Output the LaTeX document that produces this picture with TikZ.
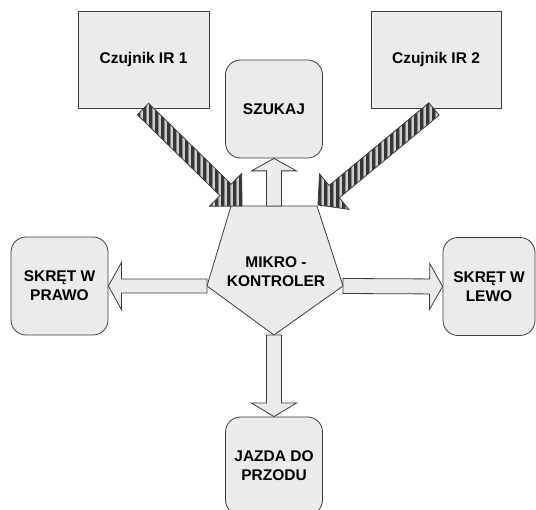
\documentclass[tikz,border=0pt]{standalone}
\usepackage{fontspec}
\setmainfont{Liberation Sans}
\usetikzlibrary{calc}
\definecolor{boxfill}{HTML}{EBEBEB}
\definecolor{edge}{HTML}{3C3C3C}
\definecolor{stripeL}{HTML}{CDCDCD}
\definecolor{stripeM}{HTML}{8A8A8A}
\definecolor{stripeD}{HTML}{363636}
% #1 style, #2 start, #3 tip, #4 shaft half width, #5 head half width, #6 head length, #7 name
\newcommand\blockarrow[7]{%
  \coordinate (#7-b) at ($(#3)!#6!(#2)$);
  \path[#1] ($(#2)!#4!90:(#3)$) -- ($(#7-b)!#4!90:(#3)$) -- ($(#7-b)!#5!90:(#3)$)
    -- (#3) -- ($(#7-b)!#5!-90:(#3)$) -- ($(#7-b)!#4!-90:(#3)$) -- ($(#2)!#4!-90:(#3)$) -- cycle;
}
\begin{document}
\begin{tikzpicture}[x=1pt,y=-1pt,
  lbl/.style={font=\bfseries\fontsize{15.5}{19}\selectfont, text=black, align=center},
  sharpbox/.style={lbl, draw=edge, fill=boxfill, line width=0.8pt, inner sep=0pt},
  roundbox/.style={lbl, draw=edge, fill=boxfill, line width=0.8pt, rounded corners=15pt,
    minimum width=97pt, minimum height=98pt, inner sep=0pt},
  hollow/.style={draw=edge, fill=boxfill, line width=0.8pt, line join=miter},
  striped/.style={draw=edge, line width=0.8pt, fill=stripeL, line join=miter,
    path picture={
      \foreach \k in {0,...,26}{
        \fill[stripeD] ([xshift={\k*6pt}]path picture bounding box.south west)
          rectangle ([xshift={\k*6pt+2.6pt}]path picture bounding box.north west);
        \fill[stripeM] ([xshift={\k*6pt+2.6pt}]path picture bounding box.south west)
          rectangle ([xshift={\k*6pt+3.8pt}]path picture bounding box.north west);
      }}}
]
\useasboundingbox (0,0) rectangle (536,510);
\fill[white] (0,0) rectangle (536,510);

% boxes
\node[sharpbox, minimum width=131pt, minimum height=97pt] (ir1) at (143.5,59.5) {Czujnik IR 1};
\node[sharpbox, minimum width=130pt, minimum height=97pt] (ir2) at (436,59.5) {Czujnik IR 2};
\node[roundbox] (szukaj) at (274,109) {SZUKAJ};
\node[roundbox] (prawo) at (59.5,286) {SKRĘT W\\PRAWO};
\node[roundbox, minimum width=92pt] (lewo) at (489,286.5) {SKRĘT W\\LEWO};
\node[roundbox] (jazda) at (274,466) {JAZDA DO\\PRZODU};

% microcontroller pentagon
\coordinate (p1) at (231,206);
\coordinate (p2) at (317,206);
\coordinate (p3) at (343,286);
\coordinate (p4) at (274,335);
\coordinate (p5) at (207,286);
\coordinate (ptop) at (274,206);
\draw[hollow] (p1) -- (p2) -- (p3) -- (p4) -- (p5) -- cycle;
\node[lbl] (mc) at (276,272) {MIKRO -\\KONTROLER};

% output arrows
\blockarrow{hollow}{ptop}{szukaj.south}{7.5pt}{22.5pt}{12.5pt}{aup}
\blockarrow{hollow}{p4}{jazda.north}{7.5pt}{22.5pt}{13.5pt}{adown}
\blockarrow{hollow}{p5}{prawo.east}{7pt}{23.5pt}{13pt}{aleft}
\blockarrow{hollow}{p3}{lewo.west}{7.5pt}{23pt}{13pt}{aright}

% sensor arrows
\coordinate (s1) at (143,109);
\coordinate (t1) at (242,206);
\coordinate (s2) at (434,109);
\coordinate (t2) at (318,205);
\blockarrow{striped}{s1}{t1}{8pt}{23pt}{23pt}{ain1}
\blockarrow{striped}{s2}{t2}{8pt}{23pt}{21pt}{ain2}
\end{tikzpicture}
\end{document}
